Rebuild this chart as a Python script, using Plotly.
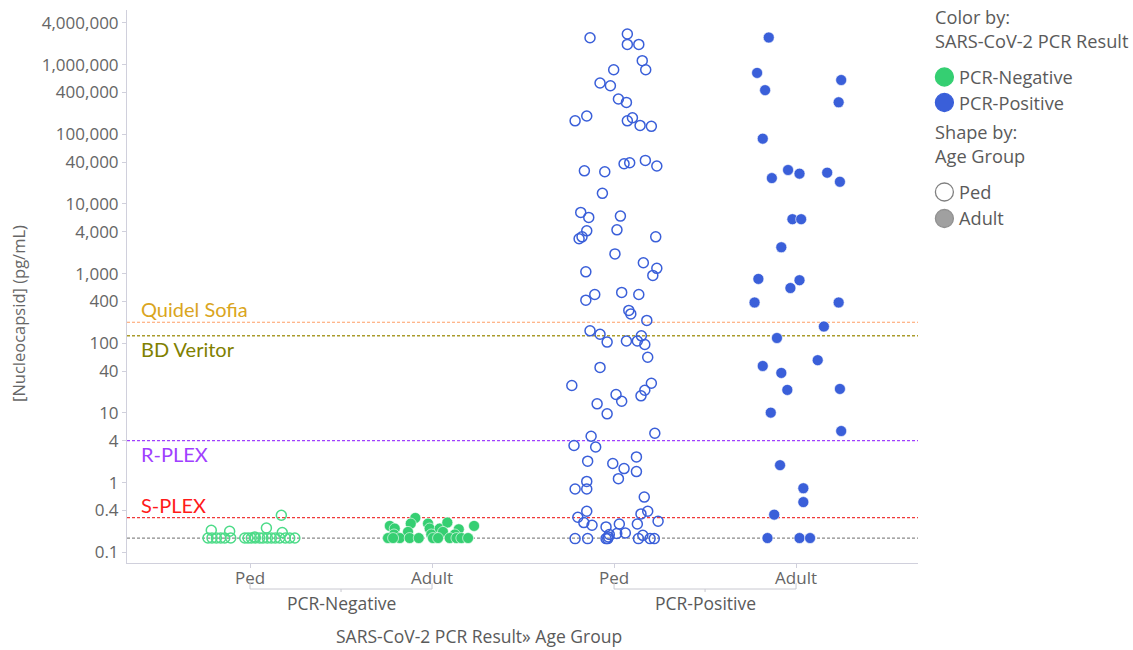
import numpy as np
import plotly.graph_objects as go

# ---------------- data ----------------
pcr_results = ["PCR-Negative", "PCR-Positive"]
age_groups = ["Ped", "Adult"]
tick_values = [0.1, 0.4, 1, 4, 10, 40, 100, 400, 1000, 4000, 10000, 40000,
               100000, 400000, 1000000, 4000000]
tick_labels = ["0.1", "0.4", "1", "4", "10", "40", "100", "400", "1,000", "4,000",
               "10,000", "40,000", "100,000", "400,000", "1,000,000", "4,000,000"]

neg_ped_values = [0.207, 0.20, 0.223, 0.34, 0.192, 0.166] + [0.16] * 19
neg_ped_jitter = [-0.213, -0.112, 0.090, 0.172, 0.177, 0.026, -0.231, -0.209, -0.185,
                  -0.161, -0.139, -0.106, -0.029, -0.011, 0.007, 0.029, 0.053, 0.071,
                  0.095, 0.117, 0.139, 0.163, 0.194, 0.218, 0.246]

neg_adult_values = [0.311, 0.258, 0.239, 0.219, 0.196, 0.258, 0.219, 0.219, 0.267,
                    0.196, 0.214, 0.239, 0.18, 0.18, 0.18] + [0.16] * 11
neg_adult_jitter = [-0.092, -0.117, -0.232, -0.205, -0.132, -0.022, -0.013, 0.042,
                    0.084, 0.060, 0.147, 0.231, 0.125, -0.004, -0.209, -0.242, -0.177,
                    -0.123, -0.073, 0.005, 0.033, 0.097, 0.134, 0.161, 0.198, -0.214]

pos_ped_values = [2.43e6, 2.75e6, 1.95e6, 1.95e6, 1.14e6, 8.45e5, 8.45e5, 5.44e5, 4.98e5, 3.21e5,
                  2.87e5, 1.56e5, 1.83e5, 1.56e5, 1.73e5, 1.34e5, 1.30e5, 3.78e4, 3.90e4, 4.22e4,
                  3.50e4, 2.99e4, 2.90e4, 1.42e4, 7560, 6410, 6690, 4110, 4250, 3370,
                  3160, 3370, 1920, 1430, 1190, 1060, 942, 416, 502, 537,
                  502, 296, 264, 213, 151, 135, 104, 108, 108, 128,
                  96, 63, 45, 24.8, 18.4, 14.7, 26.7, 21.2, 17.6, 13.5,
                  9.7, 4.63, 3.41, 3.25, 5.12, 2.03, 1.88, 1.59, 2.34, 1.44,
                  1.14, 1.04, 0.81, 0.81, 0.62, 0.388, 0.318, 0.267, 0.244, 0.355,
                  0.388, 0.279, 0.255, 0.255, 0.231, 0.189, 0.186, 0.180, 0.166, 0.175,
                  0.157, 0.157, 0.157, 0.157, 0.157, 0.157, 0.157]
pos_ped_jitter = [-0.132, 0.073, 0.073, 0.136, 0.155, 0.174, -0.002, -0.077, -0.020, 0.024,
                  0.068, -0.214, -0.150, 0.073, 0.101, 0.143, 0.205, 0.055, 0.086, 0.172,
                  0.235, -0.163, -0.051, -0.064, -0.183, -0.139, 0.035, -0.150, 0.016, -0.176,
                  -0.192, 0.229, 0.005, 0.161, 0.235, -0.155, 0.213, -0.155, -0.106, 0.042,
                  0.136, 0.081, 0.092, 0.180, -0.132, -0.077, -0.038, 0.068, 0.128, 0.150,
                  0.169, 0.185, -0.077, -0.232, 0.011, 0.042, 0.205, 0.169, 0.148, -0.093,
                  -0.038, -0.126, -0.220, -0.101, 0.224, -0.145, -0.007, 0.055, 0.123, 0.123,
                  0.024, -0.150, -0.150, -0.214, 0.166, -0.150, -0.199, -0.166, -0.121, 0.148,
                  0.185, 0.242, 0.128, 0.029, -0.044, 0.062, 0.015, -0.026, -0.031, 0.158,
                  -0.214, -0.145, -0.044, -0.035, 0.134, 0.198, 0.221]

pos_adult_values = [2.45e6, 7.60e5, 4.30e5, 6.01e5, 2.88e5, 8.65e4, 3.07e4, 2.72e4, 2.35e4, 2.81e4,
                    2.08e4, 6040, 6040, 2390, 839, 804, 621, 385, 385, 174,
                    119, 47.2, 37.5, 57.2, 21.4, 22.1, 10.1, 5.5, 1.78, 0.83,
                    0.525, 0.347, 0.16, 0.16, 0.16]
pos_adult_jitter = [-0.150, -0.214, -0.170, 0.248, 0.234, -0.183, -0.044, 0.019, -0.133, 0.171,
                    0.241, -0.020, 0.028, -0.081, -0.207, 0.019, -0.031, -0.228, 0.234, 0.153,
                    -0.105, -0.183, -0.081, 0.119, -0.048, 0.241, -0.139, 0.248, -0.088, 0.040,
                    0.040, -0.120, -0.157, 0.019, 0.077]

ref_names = ["Quidel Sofia", "BD Veritor", "R-PLEX", "S-PLEX", "LLOD"]
ref_values = [200, 128, 4, 0.315, 0.16]

legend_color_title = ["Color by:", "SARS-CoV-2 PCR Result"]
legend_shape_title = ["Shape by:", "Age Group"]

# ---------------- styles / layout constants ----------------
W, H = 1133, 650
ML, MR, MT, MB = 127, 215, 10, 87
PW, PH = W - ML - MR, H - MT - MB


def px_x(px):
    return (px - ML) / PW


def px_y(py):
    return (H - MB - py) / PH


GREEN = "#35cf72"
GREEN_OPEN = "#4ddb88"
BLUE = "#3a5fd9"
FONT = "Open Sans"
TXT = "#5a5a5a"
ref_line_colors = ["#ff9f66", "#aa9c2c", "#a040ff", "#f03a3a", "#8a8a8a"]
ref_line_widths = [1.1, 1.6, 1.2, 1.2, 1.3]
ref_text_colors = ["#daa520", "#808000", "#a040ff", "#ff1a1a", None]
ref_text_pos = ["above", "below", "below", "above", None]

fig = go.Figure()

groups = [
    ("PCR-Negative", "Ped", neg_ped_values, neg_ped_jitter),
    ("PCR-Negative", "Adult", neg_adult_values, neg_adult_jitter),
    ("PCR-Positive", "Ped", pos_ped_values, pos_ped_jitter),
    ("PCR-Positive", "Adult", pos_adult_values, pos_adult_jitter),
]

cat_positions = {}
for i, r in enumerate(pcr_results):
    for j, a in enumerate(age_groups):
        cat_positions[(r, a)] = i * len(age_groups) + j

for res, age, vals, jit in groups:
    base = cat_positions[(res, age)]
    color = GREEN if res == "PCR-Negative" else BLUE
    if age == "Ped":
        marker = dict(symbol="circle-open", size=10,
                      color=GREEN_OPEN if res == "PCR-Negative" else BLUE,
                      line=dict(width=1.5))
    else:
        marker = dict(symbol="circle", size=11, color=color,
                      line=dict(width=1, color="rgba(255,255,255,0.6)"))
    fig.add_trace(go.Scatter(
        x=base + np.array(jit), y=vals, mode="markers", marker=marker,
        name=f"{res} / {age}", showlegend=False, hoverinfo="skip"))

# reference lines
for name, val, lc, lw, tc, pos in zip(ref_names, ref_values, ref_line_colors, ref_line_widths,
                                      ref_text_colors, ref_text_pos):
    fig.add_shape(type="line", xref="paper", x0=0, x1=1, yref="y", y0=val, y1=val,
                  line=dict(color=lc, width=lw, dash="3px,2px"), layer="below")
    if tc is not None:
        fig.add_annotation(xref="paper", x=px_x(139), xanchor="left",
                           yref="y", y=np.log10(val),
                           yanchor="bottom" if pos == "above" else "top",
                           yshift=-1 if pos == "above" else 1,
                           text=name, showarrow=False,
                           font=dict(family="Lato", size=20, color=tc))

# group labels and brackets
n_age = len(age_groups)
BR = "#c8c8d0"
for i, r in enumerate(pcr_results):
    x0 = i * n_age
    x1 = i * n_age + n_age - 1
    xm = (x0 + x1) / 2
    fig.add_annotation(xref="x", x=xm, yref="paper", y=px_y(603), yanchor="middle",
                       text=r, showarrow=False,
                       font=dict(family=FONT, size=17.5, color=TXT))
    for xx in (x0, x1):
        fig.add_shape(type="line", xref="x", x0=xx, x1=xx, yref="paper",
                      y0=px_y(583), y1=px_y(589), line=dict(color=BR, width=1))
    fig.add_shape(type="line", xref="x", x0=x0, x1=x1, yref="paper",
                  y0=px_y(589), y1=px_y(589), line=dict(color=BR, width=1))
    fig.add_shape(type="line", xref="x", x0=xm, x1=xm, yref="paper",
                  y0=px_y(589), y1=px_y(592), line=dict(color=BR, width=1))

# axis titles
fig.add_annotation(xref="paper", x=px_x(478.5), xanchor="center", yref="paper", y=px_y(636),
                   yanchor="middle", text="SARS-CoV-2 PCR Result» Age Group", showarrow=False,
                   font=dict(family=FONT, size=17.5, color=TXT))
fig.add_annotation(xref="paper", x=px_x(18), xanchor="center", yref="paper", y=px_y(314),
                   yanchor="middle", text="[Nucleocapsid] (pg/mL)", showarrow=False,
                   textangle=-90, font=dict(family=FONT, size=16.5, color="#666"))

# legend (drawn as annotations + circle markers)
LX, MX, TX = 933, 944.4, 957.5
LFS = 18.2
legend_rows = [
    ("text", legend_color_title[0], 17, None),
    ("text", legend_color_title[1], 40.5, None),
    ("item", pcr_results[0], 77, dict(fill=GREEN, line=GREEN)),
    ("item", pcr_results[1], 102.5, dict(fill=BLUE, line=BLUE)),
    ("text", legend_shape_title[0], 132, None),
    ("text", legend_shape_title[1], 156.5, None),
    ("item", age_groups[0], 192, dict(fill="white", line="#808080")),
    ("item", age_groups[1], 218.5, dict(fill="#a0a0a0", line="#909090")),
]
for kind, label, py, mk in legend_rows:
    if kind == "text":
        fig.add_annotation(xref="paper", x=px_x(LX), xanchor="left", yref="paper", y=px_y(py),
                           yanchor="middle", text=label, showarrow=False,
                           font=dict(family=FONT, size=LFS, color=TXT))
    else:
        fig.add_shape(type="circle", xref="paper", yref="paper",
                      xsizemode="pixel", ysizemode="pixel",
                      xanchor=px_x(MX), yanchor=px_y(py),
                      x0=-9, x1=9, y0=-9, y1=9,
                      fillcolor=mk["fill"], line=dict(color=mk["line"], width=1.3))
        fig.add_annotation(xref="paper", x=px_x(TX), xanchor="left", yref="paper", y=px_y(py),
                           yanchor="middle", text=label, showarrow=False,
                           font=dict(family=FONT, size=LFS, color=TXT))

tickvals_x = [cat_positions[(r, a)] for r in pcr_results for a in age_groups]
ticktext_x = [a for r in pcr_results for a in age_groups]

fig.update_layout(
    width=W, height=H,
    margin=dict(l=ML, r=MR, t=MT, b=MB),
    paper_bgcolor="white", plot_bgcolor="white",
    font=dict(family=FONT, size=17, color="#666"),
    showlegend=False,
    xaxis=dict(range=[-0.676, 3.67], tickvals=tickvals_x, ticktext=ticktext_x,
               showgrid=False, zeroline=False, showline=True, linecolor="#d0d0dc",
               ticks="outside", ticklen=4, tickcolor="#d0d0dc", ticklabelstandoff=-4,
               tickfont=dict(family=FONT, size=17, color="#666")),
    yaxis=dict(type="log", range=[-1.154, 6.784], tickvals=tick_values, ticktext=tick_labels,
               showgrid=False, zeroline=False, showline=True, linecolor="#d0d0dc",
               ticks="outside", ticklen=4, tickcolor="#d0d0dc",
               tickfont=dict(family=FONT, size=17, color="#666")),
)

fig.write_html("out.html", config={"displayModeBar": False},
               post_script="document.body.style.margin='0px';")
